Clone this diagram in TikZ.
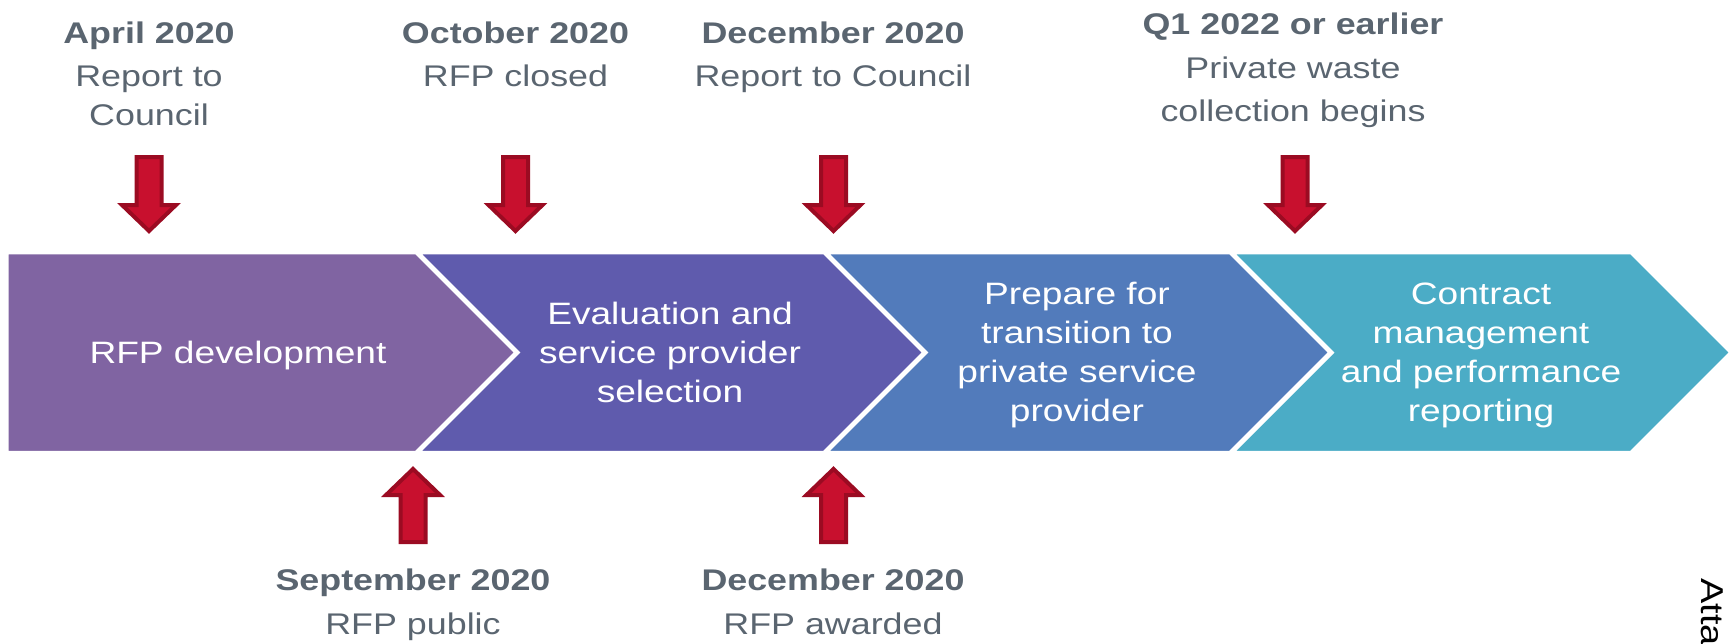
\documentclass[tikz,border=0pt]{standalone}
\usepackage{fontspec}
\setmainfont{Liberation Sans}[FakeStretch=1.2]
\usetikzlibrary{positioning,calc}

\definecolor{stepA}{HTML}{8064A2}
\definecolor{stepB}{HTML}{5F5BAD}
\definecolor{stepC}{HTML}{527BBB}
\definecolor{stepD}{HTML}{4BACC6}
\definecolor{markfill}{HTML}{C8102E}
\definecolor{markline}{HTML}{9B0B22}
\definecolor{datetext}{HTML}{5A6570}

\begin{document}
\begin{tikzpicture}[x=0.02cm,y=-0.02cm,
		phase/.style={draw=white,line width=0.07cm,line join=miter},
		phasetext/.style={text=white,align=center,inner sep=0pt,font=\fontsize{17.6}{22.2}\selectfont},
		marker/.style={fill=markfill,draw=markline,line width=0.08cm,line join=miter},
		when/.style={text=datetext,align=center,inner sep=0pt,font=\fontsize{17}{22.5}\selectfont}]
			\useasboundingbox (0,0) rectangle (1733,643);
			% chevrons
			\draw[phase,fill=stepA] (7,252.5) -- (416,252.5) -- (516,352.5) -- (416,452.5) -- (7,452.5) -- cycle;
			\foreach \l/\r/\c in {418/824/stepB, 826/1230/stepC, 1232/1631/stepD}
				\draw[phase,fill=\c] (\l,252.5) -- (\r,252.5) -- (\r+100,352.5) -- (\r,452.5) -- (\l,452.5) -- (\l+100,352.5) -- cycle;
			\node[phasetext] (rfpdev) at (238,355) {RFP development};
			\node[phasetext] (evaluation) at (670,352) {Evaluation and\\service provider\\selection};
			\node[phasetext] (transition) at (1077,355) {Prepare for\\transition to\\private service\\provider};
			\node[phasetext] (contract) at (1481,355) {Contract\\management\\and performance\\reporting};
			% milestone arrows
			\foreach \x in {149,515.5,833.5,1295}
				\draw[marker] (\x-12.5,157) -- (\x+12.5,157) -- (\x+12.5,205) -- (\x+27,205) -- (\x,231) -- (\x-27,205) -- (\x-12.5,205) -- cycle;
			\foreach \x in {413,833.5}
				\draw[marker] (\x-12.5,542) -- (\x+12.5,542) -- (\x+12.5,495) -- (\x+27,495) -- (\x,469) -- (\x-27,495) -- (\x-12.5,495) -- cycle;
			% dates
			\node[when,anchor=north] (april) at (149,21) {\textbf{April 2020}\\[2pt]Report to\\Council};
			\node[when,anchor=north] (october) at (515.5,21) {\textbf{October 2020}\\[2pt]RFP closed};
			\node[when,anchor=north] (decreport) at (833,21) {\textbf{December 2020}\\[2pt]Report to Council};
			\node[when,anchor=north] (qone) at (1293,13) {\textbf{Q1 2022 or earlier}\\[2pt]Private waste\\[2pt]collection begins};
			\node[when,anchor=north] (september) at (413,568) {\textbf{September 2020}\\[3pt]RFP public};
			\node[when,anchor=north] (decaward) at (833,568) {\textbf{December 2020}\\[3pt]RFP awarded};
			\node[rotate=-90,anchor=west,inner sep=0pt,font=\fontsize{18}{20}\selectfont] (atta) at (1712,578) {Atta};
		\end{tikzpicture}
\end{document}
